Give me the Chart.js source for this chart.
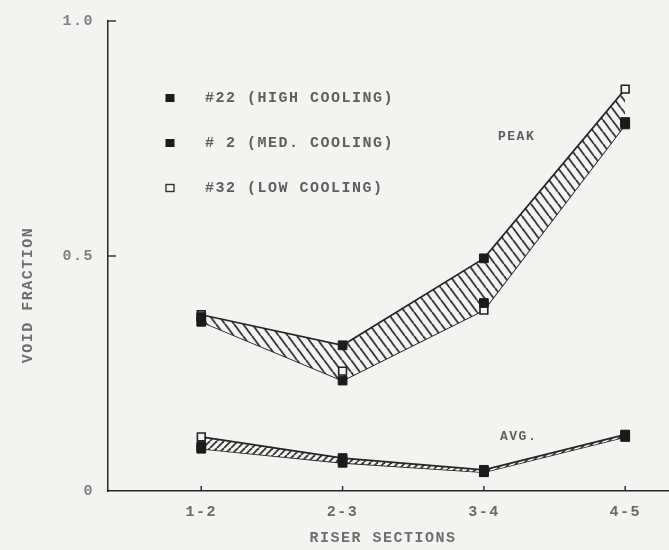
<!DOCTYPE html>
<html><head><meta charset="utf-8">
<script src="https://cdn.jsdelivr.net/npm/chart.js@4.4.0/dist/chart.umd.min.js"></script>
<style>html,body{margin:0;padding:0;background:#f3f3f1;} #wrap{width:669px;height:550px;}</style>
</head><body><div id="wrap"><canvas id="c" width="669" height="550"></canvas></div>
<script>
// ---- data ----
const categories = ['1-2', '2-3', '3-4', '4-5'];
const yTickValues = [0, 0.5, 1.0];
const peak22 = [0.37, 0.31, 0.495, 0.785];
const peak2  = [0.36, 0.235, 0.40, 0.78];
const peak32 = [0.375, 0.255, 0.385, 0.855];
const avg22  = [0.09, 0.07, 0.045, 0.12];
const avg2   = [0.095, 0.06, 0.04, 0.115];
const avg32  = [0.115, 0.065, 0.04, 0.12];
const seriesNames = ['#22 (HIGH COOLING)', '# 2 (MED. COOLING)', '#32 (LOW COOLING)'];
const bandLabels = ['PEAK', 'AVG.'];
const xTitle = 'RISER SECTIONS';
const yTitle = 'VOID FRACTION';

// ---- derived ----
const maxOf = (...a) => a[0].map((_, i) => Math.max(...a.map(s => s[i])));
const minOf = (...a) => a[0].map((_, i) => Math.min(...a.map(s => s[i])));
const peakUpper = maxOf(peak22, peak2, peak32), peakLower = minOf(peak22, peak2, peak32);
const avgUpper = maxOf(avg22, avg2, avg32), avgLower = minOf(avg22, avg2, avg32);
const pts = arr => arr.map((v, i) => ({x: i, y: v}));

const BG = '#f3f3f1', INK = '#262626', TXT = '#5e5e5e';
const FONT = 'Liberation Mono';
const canvas = document.getElementById('c');
const ctx = canvas.getContext('2d');

function hatch(w, h, dir, color, lw) {
  const t = document.createElement('canvas'); t.width = w; t.height = h;
  const g = t.getContext('2d');
  g.fillStyle = BG; g.fillRect(0, 0, w, h);
  g.strokeStyle = color; g.lineWidth = lw;
  for (const k of [-w, 0, w]) {
    g.beginPath();
    if (dir > 0) { g.moveTo(k, 0); g.lineTo(k + w, h); }
    else { g.moveTo(k, h); g.lineTo(k + w, 0); }
    g.stroke();
  }
  return ctx.createPattern(t, 'repeat');
}
const peakPattern = hatch(9, 12, 1, '#3a3a3a', 1.9);
const avgPattern = hatch(7, 7, -1, '#3a3a3a', 1.9);

const bandLine = {borderColor: INK, borderWidth: 1.7, pointRadius: 0, tension: 0, order: 2};
const filledPt = {showLine: false, pointStyle: 'rect', pointRadius: 6.2, backgroundColor: '#1b1b1b', borderColor: '#1b1b1b', borderWidth: 1, order: 0};
const openPt = {showLine: false, pointStyle: 'rect', pointRadius: 5.5, backgroundColor: BG, borderColor: '#222', borderWidth: 1.6, order: 0};
const zeroPad = s => { s.paddingLeft = 0; s.paddingRight = 0; s.paddingTop = 0; s.paddingBottom = 0; };

const decor = {
  id: 'decor',
  beforeDraw(chart) { chart.ctx.letterSpacing = '1.5px'; },
  afterDraw(chart) {
    const {ctx, scales: {x, y}} = chart;
    ctx.save();
    ctx.letterSpacing = '1.5px';
    ctx.strokeStyle = INK; ctx.lineWidth = 1.4;
    yTickValues.forEach(v => {
      if (v === 0) return;
      const py = y.getPixelForValue(v);
      ctx.beginPath(); ctx.moveTo(x.left, py); ctx.lineTo(x.left + 8, py); ctx.stroke();
    });
    categories.forEach((c, i) => {
      const px = x.getPixelForValue(i);
      ctx.beginPath(); ctx.moveTo(px, y.bottom); ctx.lineTo(px, y.bottom - 5); ctx.stroke();
    });
    // legend
    ctx.font = `bold 15px "${FONT}"`; ctx.textBaseline = 'middle'; ctx.textAlign = 'left';
    const ly = [98, 143, 188];
    seriesNames.forEach((n, i) => {
      const mx = 170, my = ly[i];
      if (i < 2) { ctx.fillStyle = '#1b1b1b'; ctx.fillRect(mx - 4.5, my - 4, 9, 8); }
      else { ctx.fillStyle = BG; ctx.fillRect(mx - 4, my - 3.5, 8, 7); ctx.strokeStyle = '#333'; ctx.lineWidth = 1.4; ctx.strokeRect(mx - 4, my - 3.5, 8, 7); }
      ctx.fillStyle = TXT;
      ctx.fillText(n, 205, my);
    });
    ctx.font = `bold 13px "${FONT}"`;
    ctx.fillText(bandLabels[0], 498, 137);
    ctx.fillText(bandLabels[1], 500, 437);
    // axis titles
    ctx.font = `bold 15px "${FONT}"`; ctx.textAlign = 'center'; ctx.fillStyle = '#6e6e6e';
    ctx.fillText(xTitle, 383, 538);
    ctx.translate(28, 295); ctx.rotate(-Math.PI / 2);
    ctx.fillText(yTitle, 0, 0);
    ctx.restore();
  }
};

new Chart(canvas, {
  type: 'line',
  data: {
    datasets: [
      Object.assign({data: pts(peakUpper), fill: '+1', backgroundColor: peakPattern}, bandLine),
      Object.assign({data: pts(peakLower), fill: false}, bandLine),
      Object.assign({data: pts(avgUpper), fill: '+1', backgroundColor: avgPattern}, bandLine),
      Object.assign({data: pts(avgLower), fill: false}, bandLine),
      Object.assign({label: seriesNames[0], data: pts(peak22).concat(pts(avg22))}, filledPt),
      Object.assign({label: seriesNames[1], data: pts(peak2).concat(pts(avg2))}, filledPt),
      Object.assign({label: seriesNames[2], data: pts(peak32).concat(pts(avg32))}, openPt)
    ]
  },
  options: {
    responsive: false,
    devicePixelRatio: 1,
    animation: false,
    layout: {autoPadding: false, padding: {top: 21, right: 0, left: 0, bottom: 0}},
    plugins: {legend: {display: false}, tooltip: {enabled: false}},
    scales: {
      x: {
        type: 'linear', min: -0.66, max: 3.31,
        border: {display: true, color: INK, width: 1.5},
        grid: {display: false, drawTicks: false},
        afterBuildTicks: s => { s.ticks = categories.map((_, i) => ({value: i})); },
        afterFit: s => { s.height = 59; zeroPad(s); },
        ticks: {callback: v => categories[v], color: '#6a6a6a', font: {family: FONT, size: 15, weight: 'bold'}, padding: 12, maxRotation: 0, autoSkip: false}
      },
      y: {
        min: 0, max: 1.0,
        border: {display: true, color: INK, width: 1.5},
        grid: {display: false, drawTicks: false},
        afterBuildTicks: s => { s.ticks = yTickValues.map(v => ({value: v})); },
        afterFit: s => { s.width = 108; zeroPad(s); },
        ticks: {callback: v => v === 0 ? '0' : v.toFixed(1), color: '#808080', font: {family: FONT, size: 15, weight: 'bold'}, padding: 14}
      }
    }
  },
  plugins: [decor]
});
</script>
</body></html>
